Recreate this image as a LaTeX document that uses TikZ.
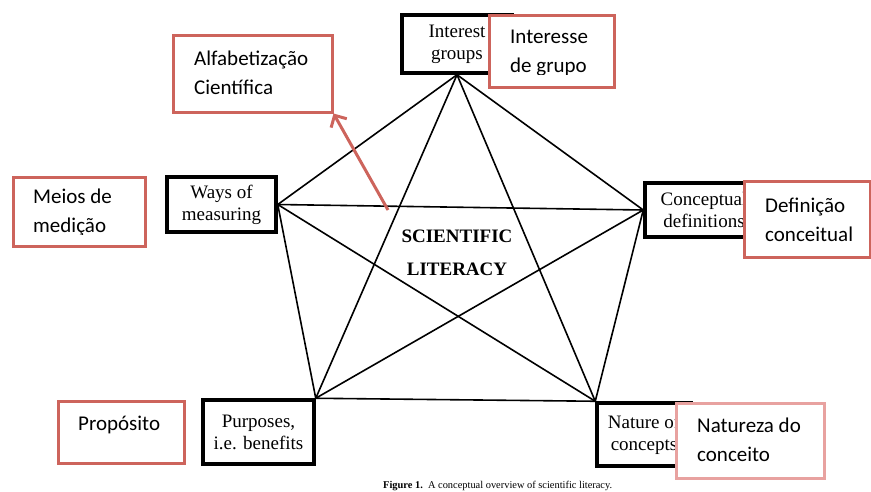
\documentclass[tikz,border=0pt]{standalone}
\usepackage{fontspec}
\setmainfont{Liberation Serif}
\newfontfamily\calib{Carlito}
\usetikzlibrary{arrows.meta}
\definecolor{boxred}{RGB}{205,100,92}
\definecolor{boxpink}{RGB}{232,162,160}
\begin{document}
\begin{tikzpicture}[x=1pt,y=-1pt,
    topic/.style={draw, line width=3.5pt, align=center, inner sep=0pt, font=\fontsize{19}{22}\selectfont},
    link/.style={line width=1.6pt},
    redbox/.style={draw=boxred, line width=2.5pt, fill=white, inner sep=0pt, anchor=north west},
    redtext/.style={align=left, inner sep=0pt, anchor=base west, font=\calib\fontsize{21}{29}\selectfont}]
    \useasboundingbox (0,0) rectangle (871,491);
    \node[topic, minimum width=110, minimum height=58] (intg) at (457,44) {Interest\\groups};
    \node[topic, minimum width=109, minimum height=55] (ways) at (221.5,204.5) {Ways of\\measuring};
    \node[topic, minimum width=118, minimum height=54] (conc) at (704,210) {Conceptual\\definitions};
    \node[topic, minimum width=111, minimum height=64] (purp) at (258.5,432) {Purposes,\\i.e. benefits};
    \node[topic, minimum width=94, minimum height=63] (natu) at (644,434.5) {Nature of\\concepts};
    \coordinate (cT) at (intg.south);
    \coordinate (cL) at (ways.east);
    \coordinate (cR) at (conc.west);
    \coordinate (cA) at (purp.north east);
    \coordinate (cB) at (natu.north west);
    \foreach \a/\b in {cT/cL, cT/cR, cT/cA, cT/cB, cL/cR, cL/cA, cL/cB, cR/cA, cR/cB, cA/cB}
        \draw[link] (\a) -- (\b);
    \node[align=center, font=\bfseries\fontsize{19}{33}\selectfont] (scil) at (457,253) {SCIENTIFIC\\LITERACY};
    \node[anchor=base west, inner sep=0pt, font=\fontsize{10.4}{12}\selectfont] (capt) at (383,488) {\textbf{Figure 1.}\ \ A conceptual overview of scientific literacy.};
    % portuguese notes
    \node[redbox, minimum width=159, minimum height=77] (alfa) at (172,34) {};
    \node[redtext] (alfat) at (194,94) {Alfabetização\\Científica};
    \node[redbox, minimum width=125, minimum height=72] (intp) at (488,14) {};
    \begin{scope}
        \clip (488,14) rectangle (613,74.5);
        \node[redtext] (intpt) at (510,72) {Interesse\\de grupo};
    \end{scope}
    \node[redbox, minimum width=132, minimum height=69] (meio) at (12,176) {};
    \begin{scope}
        \clip (12,176) rectangle (144,234.5);
        \node[redtext] (meiot) at (33,232) {Meios de\\medição};
    \end{scope}
    \node[redbox, minimum width=126, minimum height=76] (defc) at (743,180) {};
    \node[redtext] (defct) at (765,241) {Definição\\conceitual};
    \node[redbox, minimum width=126, minimum height=62] (prop) at (57,400) {};
    \node[redtext] (propt) at (78,430) {Propósito};
    \node[redbox, draw=boxpink, minimum width=148, minimum height=75] (natz) at (675,402) {};
    \node[redtext] (natzt) at (697,461) {Natureza do\\conceito};
    \coordinate (foot) at (388,210);
    \draw[draw=boxred, line width=3pt, -{Straight Barb[length=9pt,width=18pt]}] (foot) -- (alfa.south east);
\end{tikzpicture}
\end{document}
